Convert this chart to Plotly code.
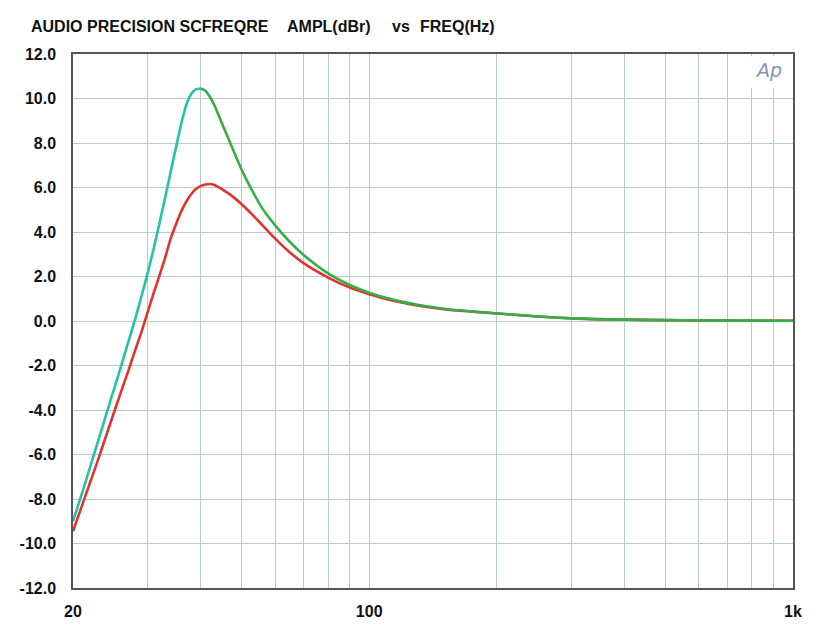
import plotly.graph_objects as go

# ---- data ----
freq_hz = [20, 21, 22, 23, 24, 25, 26, 27, 28, 29, 30, 31, 32, 33, 34, 35, 36, 37, 38, 39,
           40, 41, 42, 43, 44, 45, 47, 50, 53, 56, 60, 65, 70, 80, 90, 100, 110, 120, 130,
           150, 175, 200, 250, 300, 400, 500, 600, 800, 1000]

green_db = [-9.0, -7.75, -6.5, -5.3, -4.15, -3.05, -2.0, -0.95, 0.05, 1.1, 2.15, 3.25, 4.4,
            5.55, 6.7, 7.8, 8.85, 9.7, 10.2, 10.41, 10.45, 10.36, 10.1, 9.75, 9.3, 8.85, 8.0,
            6.8, 5.85, 5.05, 4.3, 3.55, 2.97, 2.14, 1.62, 1.27, 1.03, 0.86, 0.73, 0.55, 0.43,
            0.35, 0.2, 0.12, 0.06, 0.04, 0.03, 0.02, 0.01]

red_db = [-9.45, -8.3, -7.2, -6.15, -5.1, -4.1, -3.15, -2.25, -1.35, -0.5, 0.4, 1.25, 2.05,
          2.85, 3.7, 4.35, 4.92, 5.36, 5.7, 5.93, 6.06, 6.13, 6.16, 6.12, 6.03, 5.92, 5.68,
          5.25, 4.78, 4.3, 3.7, 3.08, 2.6, 1.95, 1.5, 1.2, 0.98, 0.82, 0.7, 0.53, 0.42, 0.34,
          0.2, 0.12, 0.06, 0.04, 0.03, 0.02, 0.01]

x_grid_vals = [20, 30, 40, 50, 60, 70, 80, 90, 100, 200, 300, 400, 500, 600, 700, 800, 900, 1000]
x_grid_text = ["20", "", "", "", "", "", "", "", "100", "", "", "", "", "", "", "", "", "1k"]
y_tick_vals = [-12, -10, -8, -6, -4, -2, 0, 2, 4, 6, 8, 10, 12]
y_tick_text = ["-12.0", "-10.0", "-8.0", "-6.0", "-4.0", "-2.0", "0.0", "2.0", "4.0", "6.0",
               "8.0", "10.0", "12.0"]

title_parts = ["AUDIO PRECISION SCFREQRE", "AMPL(dBr)", "vs", "FREQ(Hz)"]

# ---- figure ----
peak_i = green_db.index(max(green_db))
fig = go.Figure()
fig.add_trace(go.Scatter(x=freq_hz, y=red_db, mode="lines",
                         line=dict(color="#e0342c", width=2.6, shape="spline", smoothing=0.8),
                         hoverinfo="x+y"))
fig.add_trace(go.Scatter(x=freq_hz[peak_i:], y=green_db[peak_i:], mode="lines",
                         line=dict(color="#35ae48", width=2.6, shape="spline", smoothing=0.8),
                         hoverinfo="x+y"))
fig.add_trace(go.Scatter(x=freq_hz[:peak_i + 1], y=green_db[:peak_i + 1], mode="lines",
                         line=dict(color="#22c4a2", width=2.6, shape="spline", smoothing=0.8),
                         hoverinfo="x+y"))

grid_col = "#b9cdc7"
font_fam = "Liberation Sans, Arial, sans-serif"

fig.update_xaxes(type="log", range=[1.30103, 3.0], tickmode="array",
                 tickvals=x_grid_vals, ticktext=x_grid_text,
                 showgrid=True, gridcolor=grid_col, gridwidth=1,
                 showline=True, linecolor="#555555", linewidth=1.5, mirror=True,
                 ticks="outside", ticklen=8, tickcolor="rgba(0,0,0,0)", automargin=False,
                 tickfont=dict(family=font_fam, size=16, color="#111111", weight="bold"))
fig.update_yaxes(range=[-12, 12], tickmode="array", tickvals=y_tick_vals, ticktext=y_tick_text,
                 showgrid=True, gridcolor=grid_col, gridwidth=1,
                 zeroline=True, zerolinecolor=grid_col, zerolinewidth=1,
                 showline=True, linecolor="#555555", linewidth=1.5, mirror=True,
                 ticks="outside", ticklen=12, tickcolor="rgba(0,0,0,0)", automargin=False,
                 tickfont=dict(family=font_fam, size=16, color="#111111", weight="bold"))

# white patch behind the "Ap" logo (grid lines stop there)
fig.add_shape(type="rect", xref="x domain", yref="y domain", x0=0.935, x1=0.996, y0=0.937,
              y1=0.996, fillcolor="white", line=dict(width=0), layer="above")

title_x_px = [29, 285, 390, 418]
for txt, px in zip(title_parts, title_x_px):
    fig.add_annotation(text=txt, xref="paper", yref="paper", x=(px - 73) / 720.0,
                       y=(588 - 26) / 534.0, xanchor="left", yanchor="middle", showarrow=False,
                       font=dict(family=font_fam, size=16, color="#111111", weight="bold"))

fig.add_annotation(text="<i>Ap</i>", xref="x domain", yref="y domain", x=0.988, y=0.995,
                   xanchor="right", yanchor="top", showarrow=False,
                   font=dict(family="DejaVu Sans, sans-serif", size=19, color="#8596b4"))

# the page is shown with an 8px body margin, so the figure is offset by 8px
fig.update_layout(width=817, height=617, margin=dict(l=65, r=32, t=46, b=37, autoexpand=False),
                  paper_bgcolor="white", plot_bgcolor="white", showlegend=False)

fig.write_html("out.html")
